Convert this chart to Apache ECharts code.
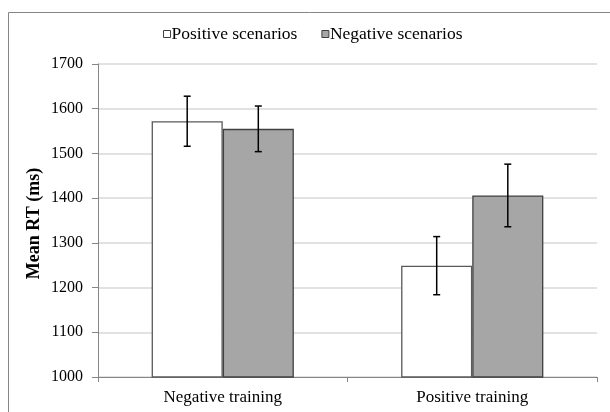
<!DOCTYPE html>
<html>
<head>
<meta charset="utf-8">
<script src="https://cdn.jsdelivr.net/npm/echarts@6/dist/echarts.min.js"></script>
<style>html,body{margin:0;padding:0;background:#fff}#c{width:610px;height:412px}</style>
</head>
<body>
<div id="c"></div>
<script>
var categories = ['Negative training', 'Positive training'];
var seriesNames = ['Positive scenarios', 'Negative scenarios'];
var positiveMeans = [1572, 1249];
var negativeMeans = [1555, 1406];
var positiveErr = [56, 65];
var negativeErr = [51, 70];
var yTicks = {min: 1000, max: 1700, interval: 100};

var FONT = "'Liberation Serif', 'Times New Roman', serif";
var BAR_FRAC = 0.285;

function errSeries(name, means, errs, side) {
  return {
    type: 'custom',
    name: name + ' err',
    z: 10,
    silent: true,
    renderItem: function (params, api) {
      var ci = api.value(0);
      var v = api.value(1);
      var e = api.value(2);
      var bw = api.size([1, 0])[0] * BAR_FRAC;
      var top = api.coord([ci, v + e]);
      var bot = api.coord([ci, v - e]);
      var x = top[0] + side * bw / 2;
      var cap = 3.5;
      var st = {stroke: '#000', lineWidth: 1.5};
      return {
        type: 'group',
        children: [
          {type: 'line', shape: {x1: x, y1: top[1], x2: x, y2: bot[1]}, style: st},
          {type: 'line', shape: {x1: x - cap, y1: top[1], x2: x + cap, y2: top[1]}, style: st},
          {type: 'line', shape: {x1: x - cap, y1: bot[1], x2: x + cap, y2: bot[1]}, style: st}
        ]
      };
    },
    data: means.map(function (m, i) { return [i, m, errs[i]]; })
  };
}

var chart = echarts.init(document.getElementById('c'), null, {renderer: 'canvas'});
chart.setOption({
  animation: false,
  backgroundColor: '#fff',
  graphic: [{
    type: 'rect',
    shape: {x: 8.5, y: 12.5, width: 700, height: 500},
    style: {fill: 'none', stroke: '#868686', lineWidth: 1},
    silent: true
  }],
  legend: {
    data: [
      {name: seriesNames[0], itemStyle: {color: '#fff', borderColor: '#404040', borderWidth: 1}},
      {name: seriesNames[1], itemStyle: {color: '#a6a6a6', borderColor: '#404040', borderWidth: 1}}
    ],
    top: 20,
    left: 158,
    itemWidth: 7,
    itemHeight: 7,
    itemGap: 24,
    icon: 'rect',
    textStyle: {fontFamily: FONT, fontSize: 17.5, color: '#000', padding: [0, 0, 0, -4]}
  },
  grid: {left: 98, right: 13, top: 64, bottom: 35, containLabel: false},
  xAxis: {
    type: 'category',
    data: categories,
    axisLine: {lineStyle: {color: '#868686', width: 1}},
    axisTick: {show: true, length: 5, lineStyle: {color: '#868686'}},
    axisLabel: {fontFamily: FONT, fontSize: 17, color: '#000', margin: 12}
  },
  yAxis: {
    type: 'value',
    min: yTicks.min,
    max: yTicks.max,
    interval: yTicks.interval,
    name: 'Mean RT (ms)',
    nameLocation: 'middle',
    nameGap: 55,
    nameMoveOverlap: false,
    nameTextStyle: {fontFamily: FONT, fontSize: 18, fontWeight: 'bold', color: '#000', padding: [0, 0, 0, -6]},
    axisLine: {show: true, lineStyle: {color: '#868686', width: 1}},
    axisTick: {show: true, length: 6, lineStyle: {color: '#868686'}},
    axisLabel: {fontFamily: FONT, fontSize: 16, color: '#000', margin: 15, formatter: function (v) { return String(v); }},
    splitLine: {lineStyle: {color: '#d9d9d9', width: 1.5}}
  },
  series: [
    {
      type: 'bar', name: seriesNames[0], data: positiveMeans,
      barWidth: (BAR_FRAC * 100) + '%', barGap: '0%',
      itemStyle: {color: '#fff', borderColor: '#595959', borderWidth: 1.3}
    },
    {
      type: 'bar', name: seriesNames[1], data: negativeMeans,
      barWidth: (BAR_FRAC * 100) + '%', barGap: '0%',
      itemStyle: {color: '#a6a6a6', borderColor: '#404040', borderWidth: 1.3}
    },
    errSeries(seriesNames[0], positiveMeans, positiveErr, -1),
    errSeries(seriesNames[1], negativeMeans, negativeErr, 1)
  ]
});
</script>
</body>
</html>
